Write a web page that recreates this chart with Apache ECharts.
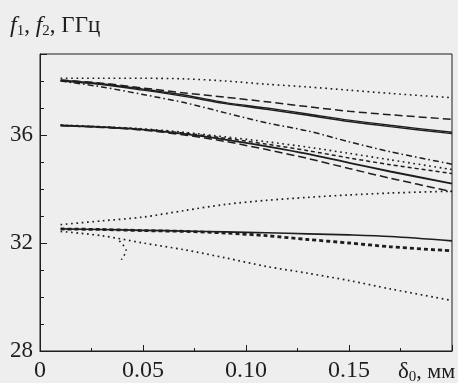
<!DOCTYPE html>
<html><head><meta charset="utf-8">
<script src="https://cdn.jsdelivr.net/npm/echarts@6/dist/echarts.min.js"></script>
<style>html,body{margin:0;padding:0;background:#eeeeee;}#c{width:458px;height:383px;}</style>
</head><body><div id="c"></div>
<script>
// δ0 values (mm) shared by the curves
const xs = [0.01, 0.03, 0.05, 0.07, 0.09, 0.11, 0.13, 0.15, 0.17, 0.20];
// upper group (GHz)
const uDotTop  = [38.10, 38.10, 38.10, 38.08, 38.00, 37.88, 37.78, 37.66, 37.54, 37.38];
const uDash    = [38.04, 37.92, 37.74, 37.56, 37.40, 37.23, 37.05, 36.88, 36.75, 36.58];
const uSolid   = [38.03, 37.90, 37.70, 37.48, 37.20, 37.00, 36.78, 36.55, 36.36, 36.10];
const uSolid2  = [38.00, 37.87, 37.66, 37.43, 37.16, 36.95, 36.73, 36.50, 36.31, 36.05];
const uDashDot = [38.00, 37.78, 37.50, 37.20, 36.82, 36.45, 36.15, 35.75, 35.38, 34.92];
// middle group
const mDot     = [36.37, 36.31, 36.23, 36.10, 35.93, 35.75, 35.55, 35.32, 35.08, 34.72];
const mDash2   = [36.36, 36.30, 36.21, 36.07, 35.88, 35.66, 35.42, 35.15, 34.90, 34.57];
const mSolid   = [36.35, 36.29, 36.20, 36.04, 35.83, 35.58, 35.30, 34.97, 34.65, 34.20];
const mDash    = [36.35, 36.28, 36.18, 36.00, 35.76, 35.46, 35.13, 34.76, 34.40, 33.90];
// lower group
const bDotUp   = [32.68, 32.82, 32.96, 33.20, 33.43, 33.58, 33.69, 33.78, 33.85, 33.92];
const bSolid   = [32.52, 32.50, 32.47, 32.44, 32.41, 32.38, 32.34, 32.30, 32.24, 32.08];
const bDash    = [32.52, 32.50, 32.46, 32.43, 32.37, 32.27, 32.13, 32.00, 31.86, 31.71];
const bDotLow  = [32.43, 32.27, 32.00, 31.75, 31.45, 31.13, 30.88, 30.61, 30.30, 29.87];
// short dotted branch
const brX = [0.0385, 0.0418, 0.0395];
const brY = [32.08, 31.72, 31.38];

const FONT = "'Liberation Serif','Times New Roman',serif";
const C = '#1e1e1e';
const zip = (a, b) => a.map((v, i) => [v, b[i]]);
const DOT = [1.7, 3.6], DASH = [8, 4], DASHDOT = [6, 3, 1.6, 3], SQ = [4, 3];

function s(y, type, w, x) {
  return {
    type: 'line', data: zip(x || xs, y), showSymbol: false, symbol: 'none',
    smooth: 0.3, xAxisIndex: 0, yAxisIndex: 0, silent: true,
    lineStyle: { color: C, width: w, type: type }
  };
}

const chart = echarts.init(document.getElementById('c'), null, { renderer: 'canvas' });
chart.setOption({
  animation: false,
  backgroundColor: '#eeeeee',
  title: [
    { left: 5, top: 8, text: '{f|f}{s|1}{n|, }{f|f}{s|2}{n|, ГГц}',
      textStyle: { fontWeight: 'normal', rich: {
        f: { fontFamily: FONT, fontStyle: 'italic', fontWeight: 'normal', fontSize: 24, color: C },
        s: { fontFamily: FONT, fontWeight: 'normal', fontSize: 15, color: C, verticalAlign: 'bottom', padding: [11, 0, 0, 0] },
        n: { fontFamily: FONT, fontWeight: 'normal', fontSize: 23, color: C }
      } } },
    { left: 393, top: 354, text: '{d|δ}{s|0}{n|, мм}',
      textStyle: { fontWeight: 'normal', rich: {
        d: { fontFamily: FONT, fontWeight: 'normal', fontSize: 23, color: C },
        s: { fontFamily: FONT, fontWeight: 'normal', fontSize: 15, color: C, verticalAlign: 'bottom', padding: [11, 0, 0, 0] },
        n: { fontFamily: FONT, fontWeight: 'normal', fontSize: 22, color: C }
      } } }
  ],
  grid: { left: 40, right: 6, top: 54, bottom: 32, show: true, borderColor: C, borderWidth: 1, backgroundColor: 'transparent' },
  xAxis: [{
    type: 'value', min: 0, max: 0.2, interval: 0.05,
    axisLine: { lineStyle: { color: C, width: 1 } },
    axisTick: { inside: true, length: 6, lineStyle: { color: C } },
    minorTick: { show: true, splitNumber: 2, length: 3, lineStyle: { color: C } },
    splitLine: { show: false },
    axisLabel: { margin: 8, fontFamily: FONT, fontSize: 24, color: C,
      formatter: v => v === 0 ? '0' : (v > 0.19 ? '' : v.toFixed(2)) }
  }],
  yAxis: [{
    type: 'value', min: 28, max: 39, interval: 1, position: 'left',
    axisLine: { lineStyle: { color: C, width: 1 } },
    axisTick: { inside: true, length: 4, lineStyle: { color: C } },
    splitLine: { show: false }, axisLabel: { show: false }
  }, {
    type: 'value', min: 28, max: 39, interval: 4, position: 'left', offset: 0,
    axisLine: { show: false },
    axisTick: { inside: true, length: 7, lineStyle: { color: C } },
    splitLine: { show: false },
    axisLabel: { margin: 7, fontFamily: FONT, fontSize: 23, color: C,
      formatter: v => (v % 4 === 0 ? String(v) : '') }
  }],
  series: [
    s(uDotTop, DOT, 1.6), s(uDash, DASH, 1.5), s(uSolid, 'solid', 1.4), s(uSolid2, 'solid', 1.4),
    s(uDashDot, DASHDOT, 1.5),
    s(mDot, DOT, 1.6), s(mDash2, [4, 3], 1.5), s(mSolid, 'solid', 1.9), s(mDash, DASH, 1.5),
    s(bDotUp, DOT, 1.7), s(bSolid, 'solid', 1.7), s(bDash, SQ, 2.8), s(bDotLow, DOT, 1.7),
    s(brY, DOT, 1.6, brX)
  ]
});
</script></body></html>
